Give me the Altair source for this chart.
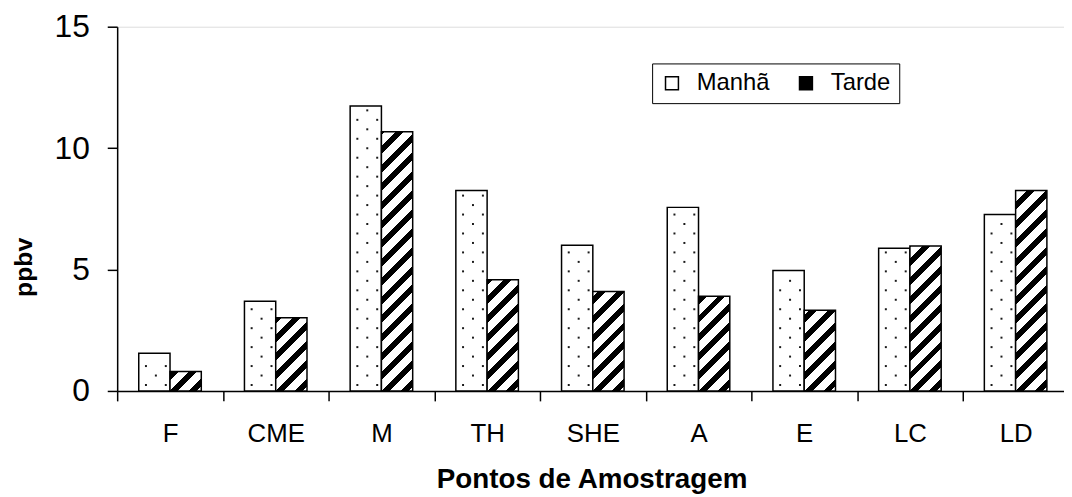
import altair as alt
import pandas as pd

categories = ["F", "CME", "M", "TH", "SHE", "A", "E", "LC", "LD"]
series = ["Manhã", "Tarde"]
manha = [1.55, 3.69, 11.73, 8.25, 6.00, 7.56, 4.96, 5.88, 7.27]
tarde = [0.80, 3.01, 10.67, 4.58, 4.10, 3.90, 3.32, 5.97, 8.25]
y_ticks = [0, 5, 10, 15]

BAND = 106.5
RANGE_W = BAND * len(categories)   # the plot runs past the right edge
PLOT_W = 954
PLOT_H = 367
Y_MAX = 15
OFF_PAD = 0.69
FONT = "Liberation Sans"

bar_w = BAND / (2 + 2 * OFF_PAD)
px_per_unit = PLOT_H / Y_MAX

df = pd.DataFrame({
    "cat": categories * 2,
    "series": ["Manhã"] * len(categories) + ["Tarde"] * len(categories),
    "value": manha + tarde,
})


def hatch(H, W, P=19.0, B=8.0):
    """Diagonal '/' hatch as a linear gradient in bounding-box units."""
    L = W + H
    def black(c):
        return ((c - H) % P) < B
    pts = set()
    k0 = int((0 - H) // P) - 1
    k1 = int((L - H) // P) + 2
    for k in range(k0, k1):
        for s in (H + k * P, H + k * P + B):
            if 0 < s < L:
                pts.add(s)
    pts = sorted(pts)
    col = lambda b: "black" if b else "white"
    stops = [alt.GradientStop(color=col(black(0.01)), offset=0)]
    for p in pts:
        stops.append(alt.GradientStop(color=col(black(p - 0.01)), offset=p / L))
        stops.append(alt.GradientStop(color=col(black(p + 0.01)), offset=p / L))
    stops.append(alt.GradientStop(color=col(black(L - 0.01)), offset=1))
    kk = (W + H) * W / (W * W + H * H)
    return alt.LinearGradient(gradient="linear", stops=stops,
                              x1=0, y1=0, x2=kk, y2=kk * H / W)


x_enc = alt.X(
    "cat:N",
    sort=categories,
    scale=alt.Scale(domain=categories, paddingInner=0, paddingOuter=0,
                    range=[0, RANGE_W]),
    axis=alt.Axis(
        title="Pontos de Amostragem", labelAngle=0, labelFont=FONT,
        labelFontSize=26, labelColor="black", labelPadding=41,
        labelBaseline="alphabetic",
        tickSize=10, tickColor="black", tickWidth=1.5, tickBand="extent",
        domainColor="black", domainWidth=1.5,
        titleFont=FONT, titleFontSize=28, titleFontWeight="bold",
        titleColor="black", titleX=478, titleY=97, titleAlign="center",
        titleBaseline="alphabetic",
    ),
)
xoff_enc = alt.XOffset(
    "series:N",
    scale=alt.Scale(domain=series, paddingInner=0, paddingOuter=OFF_PAD),
)
y_enc = alt.Y(
    "value:Q",
    scale=alt.Scale(domain=[0, Y_MAX], nice=False, zero=True),
    axis=alt.Axis(
        title="ppbv", values=y_ticks, grid=False, labelFont=FONT,
        labelFontSize=32, labelColor="black", labelPadding=18,
        tickSize=10, tickColor="black", tickWidth=1.5,
        domainColor="black", domainWidth=1.5,
        titleFont=FONT, titleFontSize=25, titleFontWeight="bold",
        titleColor="black", titleX=-94, titleY=242, titleAngle=-90,
        titleAlign="center", titleBaseline="middle",
    ),
)

base = alt.Chart(df)

manha_layer = base.transform_filter(alt.datum.series == "Manhã").mark_bar(
    stroke="black", strokeWidth=1.5
).encode(
    x=x_enc, xOffset=xoff_enc, y=y_enc,
    fill=alt.Fill(
        "series:N",
        scale=alt.Scale(domain=series, range=["white", "black"]),
        legend=alt.Legend(
            title=None, orient="none", legendX=539, legendY=37,
            direction="horizontal", symbolType="square", symbolSize=169,
            symbolStrokeColor="black", symbolStrokeWidth=1.5,
            labelFont=FONT, labelFontSize=24, labelColor="black",
            labelOffset=13, columnPadding=24, padding=8,
            strokeColor="black", fillColor="white",
        ),
    ),
)

# dotted texture for the "Manhã" bars
dot_rows = []
for c, v in zip(categories, manha):
    k = 0
    while True:
        lvl = 0.245 + k * 0.39
        if lvl > v - 0.15:
            break
        if k % 2 == 0:
            dot_rows.append({"cat": c, "series": "Manhã", "value": lvl, "pos": "L"})
            dot_rows.append({"cat": c, "series": "Manhã", "value": lvl, "pos": "R"})
        else:
            dot_rows.append({"cat": c, "series": "Manhã", "value": lvl, "pos": "C"})
        k += 1
dots = pd.DataFrame(dot_rows)


def dot_path(cx, s=1.0):
    return f"M {cx - s} {-s} h {2 * s} v {2 * s} h {-2 * s} Z"


dot_layers = []
for pos, dx in (("L", -8.5), ("C", 1.5), ("R", 11.5)):
    dot_layers.append(
        alt.Chart(dots).transform_filter(alt.datum.pos == pos).mark_point(
            shape=dot_path(dx), size=4, filled=True, color="black",
            opacity=0.9, strokeWidth=0
        ).encode(x=x_enc, xOffset=xoff_enc, y=y_enc)
    )

tarde_layers = []
for c, v in zip(categories, tarde):
    H = v * px_per_unit
    tarde_layers.append(
        base.transform_filter(
            (alt.datum.series == "Tarde") & (alt.datum.cat == c)
        ).mark_bar(fill=hatch(H, bar_w), stroke="black", strokeWidth=1.5)
        .encode(x=x_enc, xOffset=xoff_enc, y=y_enc)
    )

chart = alt.layer(
    manha_layer, *dot_layers, *tarde_layers
).properties(
    width=PLOT_W, height=PLOT_H,
    autosize=alt.AutoSizeParams(type="none"),
    padding={"left": 110, "top": 17, "right": 0, "bottom": 105},
).configure_view(strokeWidth=0).configure(background="white")

chart.save("out.html", embed_options={"renderer": "svg", "actions": False})
